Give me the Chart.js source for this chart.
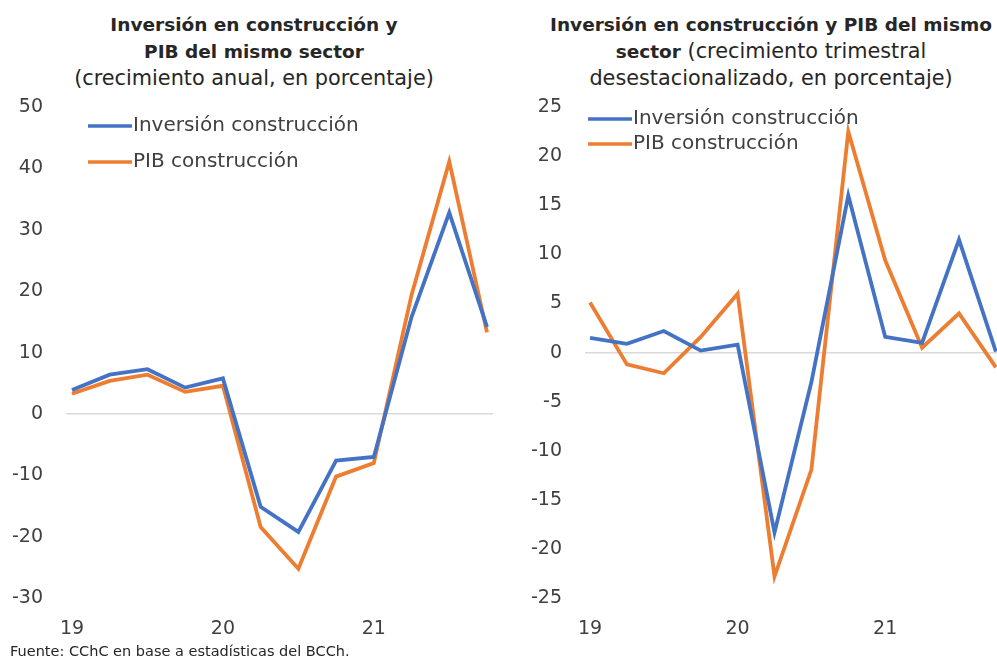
<!DOCTYPE html>
<html>
<head>
<meta charset="utf-8">
<script src="https://cdn.jsdelivr.net/npm/chart.js@4.4.1/dist/chart.umd.min.js"></script>
<style>
  html, body { margin:0; padding:0; background:#fff; }
  #wrap { position:relative; width:997px; height:659px; overflow:hidden; background:#fff; font-family:'DejaVu Sans', sans-serif; color:#262626; }
  .title { position:absolute; text-align:center; font-size:20.8px; line-height:27px; white-space:nowrap; }
  .title b { font-weight:700; font-size:18.5px; }
  canvas { position:absolute; top:0; }
  #foot { position:absolute; left:10px; top:643px; font-size:14.5px; color:#262626; }
</style>
</head>
<body>
<div id="wrap">
  <div class="title" style="left:0; width:508px; top:11px;"><b>Inversión en construcción y<br>PIB del mismo sector</b><br>(crecimiento anual, en porcentaje)</div>
  <div class="title" style="left:545px; width:452px; top:11px;"><b>Inversión en construcción y PIB del mismo</b><br><b>sector</b> (crecimiento trimestral<br>desestacionalizado, en porcentaje)</div>
  <canvas id="c1" width="500" height="659" style="left:0;"></canvas>
  <canvas id="c2" width="497" height="659" style="left:500px;"></canvas>
  <div id="foot">Fuente: CChC en base a estadísticas del BCCh.</div>
</div>
<script>
// Quarterly categories 2019Q1 .. 2021Q4 (labels shown only at Q1)
const categories = ['19','','','','20','','','','21','','',''];
const seriesNames = ['Inversión construcción', 'PIB construcción'];

// Left chart: annual growth (%)
const invAnual = [3.9, 6.4, 7.3, 4.3, 5.8, -15.1, -19.2, -7.6, -7.0, 15.8, 32.8, 14.2];
const pibAnual = [3.3, 5.4, 6.4, 3.6, 4.6, -18.4, -25.2, -10.2, -8.0, 19.4, 41.1, 13.3];

// Right chart: seasonally adjusted quarterly growth (%)
const invTrim = [1.5, 0.9, 2.2, 0.2, 0.8, -18.3, -3.0, 16.0, 1.6, 1.0, 11.5, 0.1];
const pibTrim = [5.1, -1.2, -2.1, 1.6, 6.0, -22.8, -11.9, 22.5, 9.4, 0.5, 4.0, -1.5];

const leftTicks = { min: -30, max: 50, step: 10 };
const rightTicks = { min: -25, max: 25, step: 5 };

const BLUE = '#4472C4', ORANGE = '#ED7D31', TXT = '#404040';
const FONT = 'DejaVu Sans';

const legendPlugin = {
  id: 'customLegend',
  afterDraw(chart, args, opts) {
    const ctx = chart.ctx;
    ctx.save();
    ctx.font = '20px "' + FONT + '"';
    ctx.textBaseline = 'middle';
    ctx.textAlign = 'left';
    chart.data.datasets.forEach((ds, i) => {
      const y = opts.y + i * opts.gap;
      ctx.strokeStyle = ds.borderColor;
      ctx.lineWidth = 3.5;
      ctx.beginPath();
      ctx.moveTo(opts.x, y);
      ctx.lineTo(opts.x + 44, y);
      ctx.stroke();
      ctx.fillStyle = TXT;
      ctx.fillText(ds.label, opts.x + 45, y);
    });
    ctx.restore();
  }
};

function toXY(arr) { return arr.map((v, i) => ({ x: i, y: v })); }

function makeChart(id, inv, pib, yt, cfg) {
  return new Chart(document.getElementById(id), {
    type: 'line',
    data: {
      datasets: [
        { label: seriesNames[0], data: toXY(inv), borderColor: BLUE, backgroundColor: BLUE, borderWidth: 3.8, pointRadius: 0, tension: 0 },
        { label: seriesNames[1], data: toXY(pib), borderColor: ORANGE, backgroundColor: ORANGE, borderWidth: 3.8, pointRadius: 0, tension: 0 }
      ]
    },
    options: {
      responsive: false,
      animation: false,
      layout: { padding: { top: 107, bottom: 0, left: 0, right: cfg.padRight } },
      plugins: {
        legend: { display: false },
        tooltip: { enabled: false },
        customLegend: cfg.legend
      },
      scales: {
        x: {
          type: 'linear',
          min: cfg.xmin, max: cfg.xmax,
          afterBuildTicks: (s) => { s.ticks = categories.map((c, i) => ({ value: i })).filter(t => categories[t.value] !== ''); },
          ticks: { callback: (v) => categories[v] || '', color: TXT, font: { family: FONT, size: 19 }, padding: 19, maxRotation: 0, autoSkip: false },
          grid: { display: false, drawTicks: false },
          border: { display: false }
        },
        y: {
          min: yt.min, max: yt.max,
          afterFit: (s) => { s.width = cfg.yWidth; },
          ticks: { stepSize: yt.step, color: TXT, font: { family: FONT, size: 19 }, padding: 23 },
          grid: { drawTicks: false, color: (c) => c.tick && c.tick.value === 0 ? '#d9d9d9' : 'rgba(0,0,0,0)', lineWidth: 1.5 },
          border: { display: false }
        }
      }
    },
    plugins: [legendPlugin]
  });
}

makeChart('c1', invAnual, pibAnual, leftTicks, { xmin: -0.159, xmax: 11.159, padRight: 7, yWidth: 66, legend: { x: 88, y: 126, gap: 36 } });
makeChart('c2', invTrim, pibTrim, rightTicks, { xmin: -0.136, xmax: 11.03, padRight: 0, yWidth: 85, legend: { x: 88, y: 119, gap: 25 } });
</script>
</body>
</html>
